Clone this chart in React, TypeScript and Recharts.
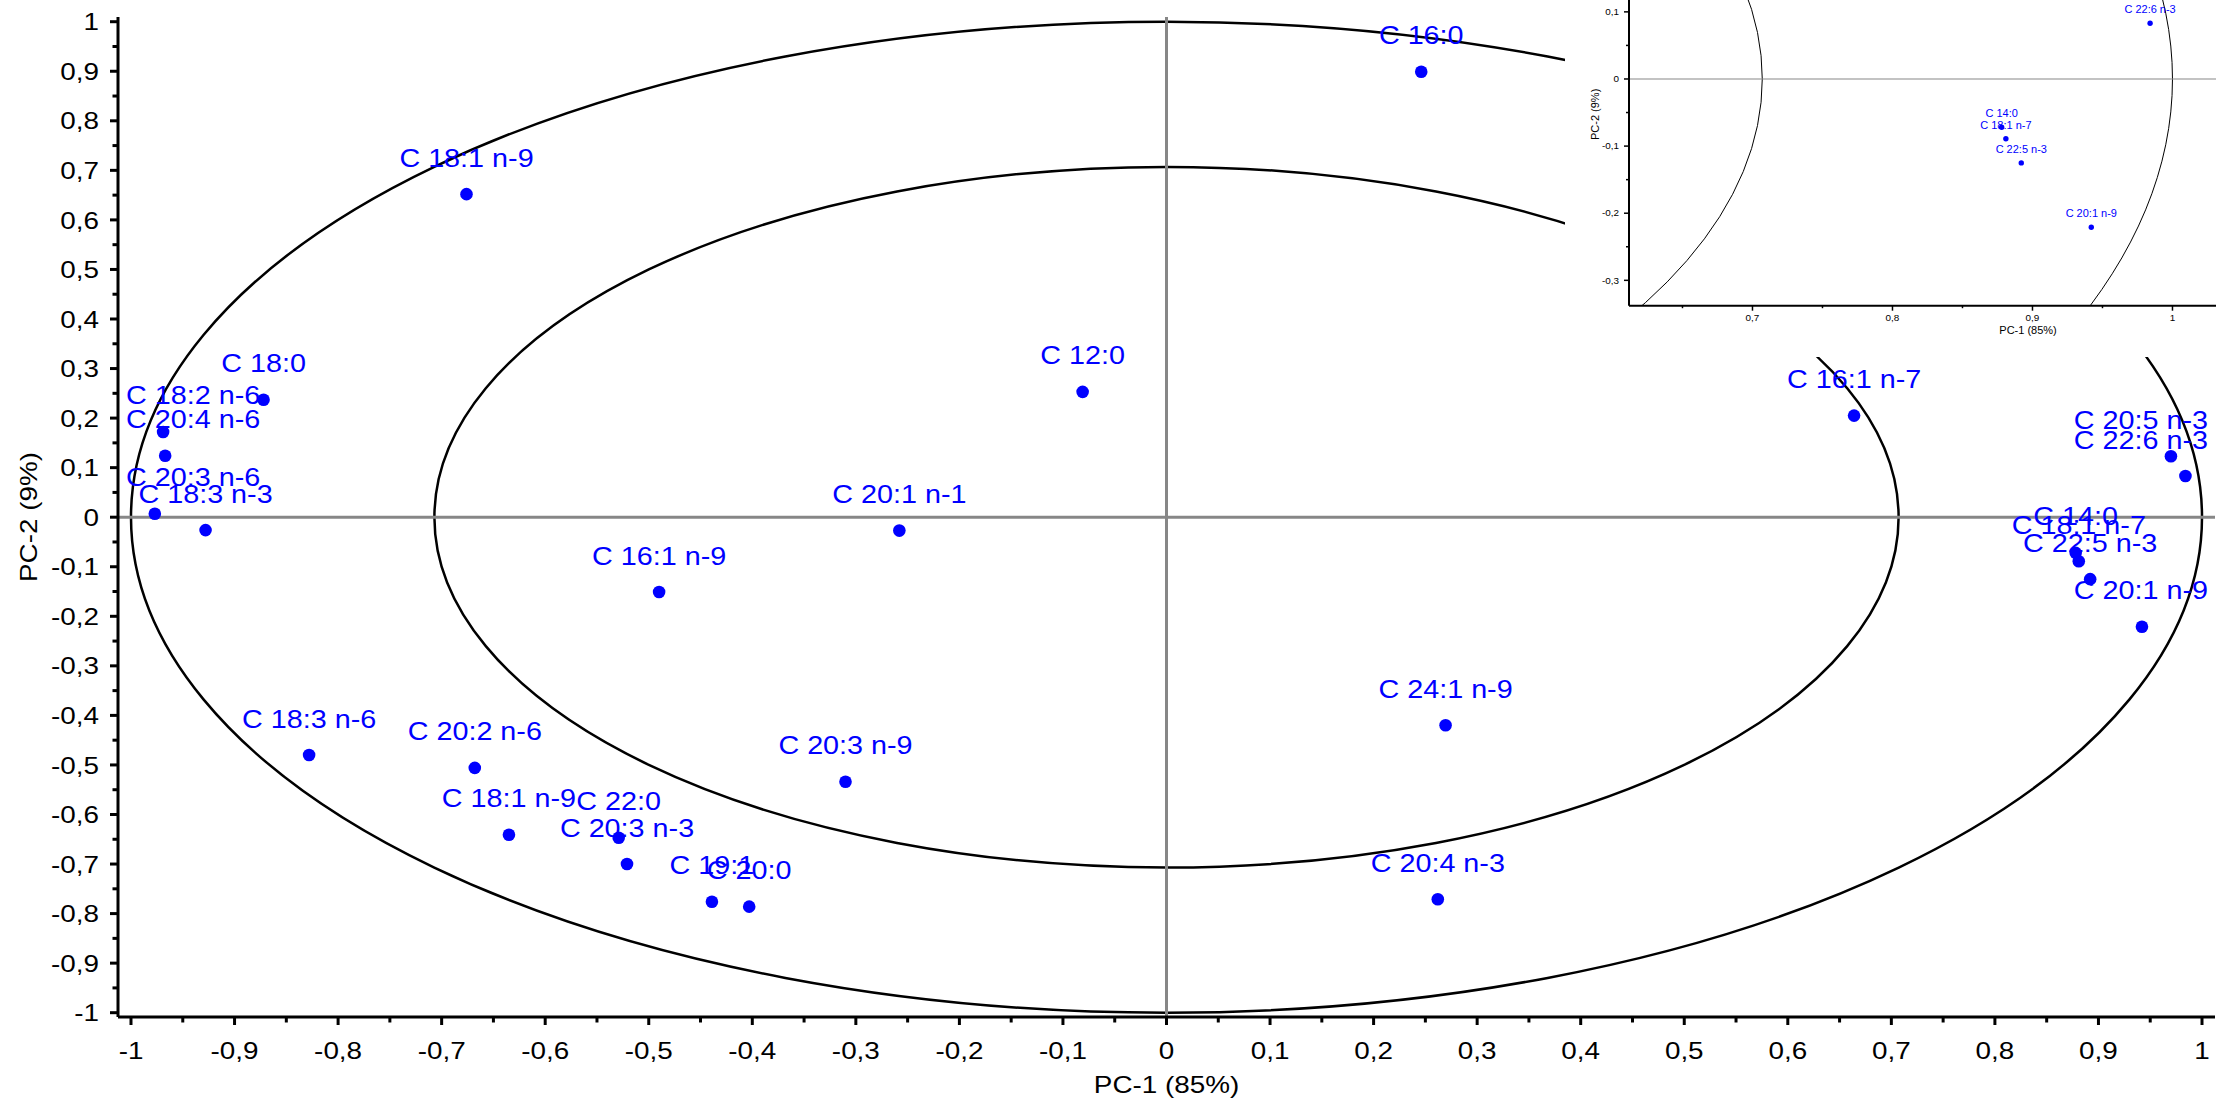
import React from 'react';
import { ScatterChart, Scatter, XAxis, YAxis, ReferenceLine, ReferenceArea } from 'recharts';

// ---- data ----
const acids = [
  'C 16:0', 'C 18:1 n-9', 'C 12:0', 'C 18:0', 'C 18:2 n-6', 'C 20:4 n-6', 'C 20:3 n-6',
  'C 18:3 n-3', 'C 20:1 n-1', 'C 16:1 n-9', 'C 16:1 n-7', 'C 20:5 n-3', 'C 22:6 n-3',
  'C 14:0', 'C 18:1 n-7', 'C 22:5 n-3', 'C 20:1 n-9', 'C 18:3 n-6', 'C 20:2 n-6',
  'C 18:1 n-9', 'C 22:0', 'C 20:3 n-3', 'C 19:1', 'C 20:0', 'C 20:3 n-9', 'C 24:1 n-9',
  'C 20:4 n-3',
];
const pc1 = [
  0.246, -0.676, -0.081, -0.872, -0.969, -0.967, -0.977,
  -0.928, -0.258, -0.49, 0.664, 0.97, 0.984,
  0.878, 0.881, 0.892, 0.942, -0.828, -0.668,
  -0.635, -0.529, -0.521, -0.439, -0.403, -0.31, 0.2695,
  0.262,
];
const pc2 = [
  0.899, 0.652, 0.253, 0.237, 0.172, 0.124, 0.007,
  -0.026, -0.027, -0.151, 0.205, 0.123, 0.083,
  -0.072, -0.089, -0.125, -0.221, -0.48, -0.506,
  -0.641, -0.647, -0.7, -0.776, -0.786, -0.534, -0.42,
  -0.771,
];
const mainTicks = [
  -1, -0.95, -0.9, -0.85, -0.8, -0.75, -0.7, -0.65, -0.6, -0.55, -0.5, -0.45, -0.4, -0.35,
  -0.3, -0.25, -0.2, -0.15, -0.1, -0.05, 0, 0.05, 0.1, 0.15, 0.2, 0.25, 0.3, 0.35, 0.4,
  0.45, 0.5, 0.55, 0.6, 0.65, 0.7, 0.75, 0.8, 0.85, 0.9, 0.95, 1,
];
const insetXTicks = [0.65, 0.7, 0.75, 0.8, 0.85, 0.9, 0.95, 1];
const insetYTicks = [-0.3, -0.25, -0.2, -0.15, -0.1, -0.05, 0, 0.05, 0.1];
const outerRadius = 1;
const innerRadius = 0.707;

const points = acids.map((name, i) => ({ name, x: pc1[i], y: pc2[i] }));

const FONT = '"Liberation Sans", Arial, Helvetica, sans-serif';
const BLUE = '#0000ff';
const GRAY = '#878787';

// inset chart layout
const IN_W = 900;
const IN_H = 460;
const IN_MARGIN = { top: 23, right: 38, bottom: 0, left: 0 };
const IN_YAXIS_W = 64;
const IN_XAXIS_H = 54.3;
const IN_PLOT = {
  x: IN_MARGIN.left + IN_YAXIS_W,
  y: IN_MARGIN.top,
  w: IN_W - IN_MARGIN.left - IN_MARGIN.right - IN_YAXIS_W,
  h: IN_H - IN_MARGIN.top - IN_MARGIN.bottom - IN_XAXIS_H,
};

let ctx: CanvasRenderingContext2D | null = null;
function measure(s: string, size: number) {
  if (!ctx) ctx = document.createElement('canvas').getContext('2d');
  if (!ctx) return s.length * size * 0.55;
  ctx.font = `${size}px "Liberation Sans", Arial`;
  return ctx.measureText(s).width;
}

const isMajor = (v: number) => Math.abs(v * 10 - Math.round(v * 10)) < 1e-6;
const fmt = (v: number) => String(Math.round(v * 10) / 10).replace('.', ',');

// ---- main chart pieces ----
const MainXTick = (p: any) => {
  const { x, y, payload } = p;
  const v = payload.value;
  const major = isMajor(v);
  return (
    <g>
      <line x1={x} y1={y} x2={x} y2={y + (major ? 8 : 5.5)} stroke="#000" strokeWidth={3} />
      {major && (
        <text transform={`translate(${x},${y + 42}) scale(1.16,1)`} textAnchor="middle" fontSize={24} fontFamily={FONT} fill="#000">
          {fmt(v)}
        </text>
      )}
    </g>
  );
};

const MainYTick = (p: any) => {
  const { x, y, payload } = p;
  const v = payload.value;
  const major = isMajor(v);
  return (
    <g>
      <line x1={x - (major ? 8 : 5.5)} y1={y} x2={x} y2={y} stroke="#000" strokeWidth={3} />
      {major && (
        <text transform={`translate(${x - 19},${y + 8.6}) scale(1.16,1)`} textAnchor="end" fontSize={24} fontFamily={FONT} fill="#000">
          {fmt(v)}
        </text>
      )}
    </g>
  );
};

const MainPoint = (p: any) => {
  const { cx, cy, payload } = p;
  if (cx == null || cy == null) return null;
  const w = measure(payload.name, 25) * 1.15;
  let ax = cx;
  let anchor: 'middle' | 'start' | 'end' = 'middle';
  if (cx - w / 2 < 126) { ax = 126; anchor = 'start'; }
  else if (cx + w / 2 > 2208) { ax = 2208; anchor = 'end'; }
  return (
    <g>
      <circle cx={cx} cy={cy} r={6.3} fill={BLUE} />
      <text transform={`translate(${ax},${cy - 27.5}) scale(1.15,1)`} textAnchor={anchor} fontSize={25} fontFamily={FONT} fill={BLUE}>
        {payload.name}
      </text>
    </g>
  );
};

const MainEllipse = (p: any) => {
  const { x, y, width, height } = p;
  return (
    <ellipse cx={x + width / 2} cy={y + height / 2} rx={Math.abs(width) / 2} ry={Math.abs(height) / 2} fill="none" stroke="#000" strokeWidth={2.5} />
  );
};

const InsetEllipse = (id: string) => (p: any) => {
  const { x, y, width, height } = p;
  return (
    <g>
      <defs>
        <clipPath id={id}>
          <rect x={IN_PLOT.x} y={IN_PLOT.y} width={IN_PLOT.w} height={IN_PLOT.h} />
        </clipPath>
      </defs>
      <g clipPath={`url(#${id})`}>
        <ellipse cx={x + width / 2} cy={y + height / 2} rx={Math.abs(width) / 2} ry={Math.abs(height) / 2} fill="none" stroke="#000" strokeWidth={1} />
      </g>
    </g>
  );
};

const MainXTitle = (p: any) => {
  const vb = p.viewBox;
  return (
    <text transform={`translate(${vb.x + vb.width / 2},${vb.y + 76}) scale(1.16,1)`} textAnchor="middle" fontSize={24} fontFamily={FONT} fill="#000">
      PC-1 (85%)
    </text>
  );
};
const MainYTitle = (p: any) => {
  const vb = p.viewBox;
  return (
    <text transform={`translate(${vb.x + 28},${vb.y + vb.height / 2}) rotate(-90) scale(1.16,1)`} y={8.6} textAnchor="middle" fontSize={24} fontFamily={FONT} fill="#000">
      PC-2 (9%)
    </text>
  );
};

// ---- inset chart pieces ----
const InsetXTick = (p: any) => {
  const { x, y, payload } = p;
  const v = payload.value;
  const major = isMajor(v);
  return (
    <g>
      <line x1={x} y1={y} x2={x} y2={y + (major ? 5 : 2.5)} stroke="#000" strokeWidth={1.5} />
      {major && (
        <text transform={`translate(${x},${y + 15}) scale(1.1,1)`} textAnchor="middle" fontSize={9} fontFamily={FONT} fill="#000">
          {fmt(v)}
        </text>
      )}
    </g>
  );
};
const InsetYTick = (p: any) => {
  const { x, y, payload } = p;
  const v = payload.value;
  const major = isMajor(v);
  return (
    <g>
      <line x1={x - (major ? 5 : 3)} y1={y} x2={x} y2={y} stroke="#000" strokeWidth={1.5} />
      {major && (
        <text transform={`translate(${x - 10},${y + 3.2}) scale(1.1,1)`} textAnchor="end" fontSize={9} fontFamily={FONT} fill="#000">
          {fmt(v)}
        </text>
      )}
    </g>
  );
};
const InsetPoint = (p: any) => {
  const { cx, cy, payload } = p;
  if (cx == null || cy == null) return null;
  // only the points that fall inside the zoomed window are drawn
  if (cx < IN_PLOT.x || cx > IN_PLOT.x + IN_PLOT.w || cy < IN_PLOT.y || cy > IN_PLOT.y + IN_PLOT.h) return null;
  return (
    <g>
      <circle cx={cx} cy={cy} r={2.7} fill={BLUE} />
      <text transform={`translate(${cx},${cy - 10}) scale(1.1,1)`} textAnchor="middle" fontSize={10} fontFamily={FONT} fill={BLUE}>
        {payload.name}
      </text>
    </g>
  );
};
const InsetXTitle = (p: any) => {
  const vb = p.viewBox;
  return (
    <text transform={`translate(${vb.x + vb.width / 2},${vb.y + 28.5}) scale(1.1,1)`} textAnchor="middle" fontSize={10} fontFamily={FONT} fill="#000">
      PC-1 (85%)
    </text>
  );
};
const InsetYTitle = (p: any) => {
  const vb = p.viewBox;
  return (
    <text transform={`translate(${vb.x + vb.width - 33.4},${vb.y + vb.height / 2}) rotate(-90) scale(1.1,1)`} y={3.6} textAnchor="middle" fontSize={10} fontFamily={FONT} fill="#000">
      PC-2 (9%)
    </text>
  );
};

export default function App() {
  return (
    <div style={{ position: 'absolute', left: 0, top: 0, width: 2216, height: 1102, overflow: 'hidden', background: '#fff' }}>
      <ScatterChart width={2216} height={1102} margin={{ top: 17, right: 1, bottom: 0, left: 0 }}>
        <XAxis
          type="number"
          dataKey="x"
          domain={[-1.01255, 1.01255]}
          allowDataOverflow
          ticks={mainTicks}
          interval={0}
          tickSize={0}
          tickMargin={0}
          tickLine={false}
          tick={<MainXTick />}
          height={85}
          axisLine={{ stroke: '#000', strokeWidth: 3 }}
          label={{ content: <MainXTitle /> } as any}
        />
        <YAxis
          type="number"
          dataKey="y"
          domain={[-1.0087, 1.0095]}
          allowDataOverflow
          ticks={mainTicks}
          interval={0}
          tickSize={0}
          tickMargin={0}
          tickLine={false}
          tick={<MainYTick />}
          width={118}
          axisLine={{ stroke: '#000', strokeWidth: 3 }}
          label={{ content: <MainYTitle /> } as any}
        />
        <ReferenceArea x1={-outerRadius} x2={outerRadius} y1={-outerRadius} y2={outerRadius} ifOverflow="visible" shape={MainEllipse} />
        <ReferenceArea x1={-innerRadius} x2={innerRadius} y1={-innerRadius} y2={innerRadius} ifOverflow="visible" shape={MainEllipse} />
        <ReferenceLine y={0} stroke={GRAY} strokeWidth={3} />
        <ReferenceLine x={0} stroke={GRAY} strokeWidth={3} />
        <Scatter data={points} isAnimationActive={false} shape={<MainPoint />} />
      </ScatterChart>

      <div style={{ position: 'absolute', left: 1565, top: 0, width: 651, height: 357, background: '#fff', overflow: 'hidden' }}>
        <div style={{ position: 'absolute', left: 0, top: -100 }}>
          <ScatterChart width={IN_W} height={IN_H} margin={IN_MARGIN}>
            <XAxis
              type="number"
              dataKey="x"
              domain={[0.6118, 1.1818]}
              allowDataOverflow
              ticks={insetXTicks}
              interval={0}
              tickSize={0}
              tickMargin={0}
              tickLine={false}
              tick={<InsetXTick />}
              height={IN_XAXIS_H}
              axisLine={{ stroke: '#000', strokeWidth: 2 }}
              label={{ content: <InsetXTitle /> } as any}
            />
            <YAxis
              type="number"
              dataKey="y"
              domain={[-0.3378, 0.2324]}
              allowDataOverflow
              ticks={insetYTicks}
              interval={0}
              tickSize={0}
              tickMargin={0}
              tickLine={false}
              tick={<InsetYTick />}
              width={IN_YAXIS_W}
              axisLine={{ stroke: '#000', strokeWidth: 2 }}
              label={{ content: <InsetYTitle /> } as any}
            />
            <ReferenceArea x1={-outerRadius} x2={outerRadius} y1={-outerRadius} y2={outerRadius} ifOverflow="hidden" shape={InsetEllipse('inset-clip-outer')} />
            <ReferenceArea x1={-innerRadius} x2={innerRadius} y1={-innerRadius} y2={innerRadius} ifOverflow="hidden" shape={InsetEllipse('inset-clip-inner')} />
            <ReferenceLine y={0} stroke={GRAY} strokeWidth={1.2} />
            <Scatter data={points} isAnimationActive={false} shape={<InsetPoint />} />
          </ScatterChart>
        </div>
      </div>
    </div>
  );
}
